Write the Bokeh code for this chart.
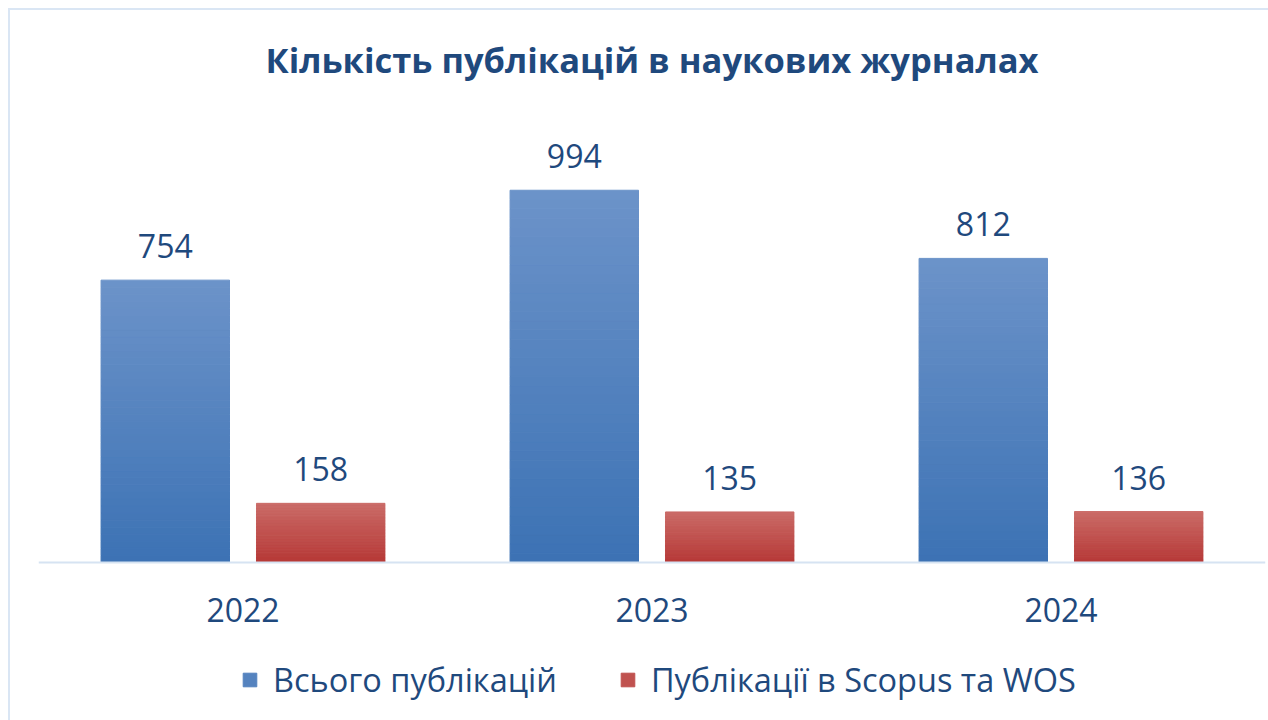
from bokeh.plotting import figure
from bokeh.models import ColumnDataSource, Legend, LegendItem, FactorRange, Range1d, Span
from bokeh.transform import dodge
from bokeh.core.properties import value
from bokeh.embed import file_html
from bokeh.resources import INLINE

# ---- data ----
years = ["2022", "2023", "2024"]
total = [754, 994, 812]
scopus = [158, 135, 136]
series_names = ["Всього публікацій", "Публікації в Scopus та WOS"]
title_text = "Кількість публікацій в наукових журналах"

# ---- style ----
TEXT = "#1f497d"
FONT = "Open Sans"
BLUE_TOP, BLUE_BOT = (108, 147, 201), (60, 114, 180)
RED_TOP, RED_BOT = (202, 107, 103), (182, 56, 54)
N = 40
OFF = 0.19
BW = 0.314


def hexc(rgb):
    return "#%02x%02x%02x" % rgb


def grad_source(vals, top_rgb, bot_rgb):
    xs, b, t, c = [], [], [], []
    for yr, v in zip(years, vals):
        for k in range(N):
            f = (k + 0.5) / N
            rgb = tuple(round(bot_rgb[i] + (top_rgb[i] - bot_rgb[i]) * f) for i in range(3))
            xs.append(yr)
            b.append(v * k / N)
            t.append(v * (k + 1) / N)
            c.append(hexc(rgb))
    return ColumnDataSource(dict(x=xs, bottom=b, top=t, color=c))


# layout (pixels)
FW = 1227
TOP, BASE, BOTTOM = 108, 562, 720
px_per_unit = 0.3745
FH = BOTTOM - TOP

p = figure(
    x_range=FactorRange(*years, range_padding=0),
    y_range=Range1d(-(BOTTOM - BASE) / px_per_unit, (BASE - TOP) / px_per_unit),
    frame_width=FW, frame_height=FH,
    output_backend="svg", toolbar_location=None,
    min_border_left=38, min_border_right=3,
    min_border_top=TOP, min_border_bottom=0,
    title=title_text,
)
p.border_fill_alpha = 0
p.styles = {
    "background": "linear-gradient(#dae6f4,#dae6f4) 8px 8px / 2px 100% no-repeat, "
                  "linear-gradient(#dae6f4,#dae6f4) 8px 8px / 100% 2px no-repeat",
}
p.outline_line_color = None
p.xgrid.grid_line_color = None
p.ygrid.grid_line_color = None
p.yaxis.visible = False
p.xaxis.visible = False

p.title.align = "center"
p.title.text_font = FONT
p.title.text_font_style = "bold"
p.title.text_font_size = "34.5px"
p.title.text_color = TEXT
p.title.standoff = 52

# category baseline and labels
p.add_layout(Span(location=0, dimension="width", line_color="#d6e3f2", line_width=2))
cat_src = ColumnDataSource(dict(x=years, y=[0] * len(years)))
p.text(x="x", y="y", text="x", source=cat_src,
       text_font=value(FONT), text_font_size="32px", text_color=TEXT,
       text_align="center", text_baseline="alphabetic", y_offset=47)

src_total = grad_source(total, BLUE_TOP, BLUE_BOT)
src_scopus = grad_source(scopus, RED_TOP, RED_BOT)

r1 = p.vbar(x=dodge("x", -OFF, range=p.x_range), bottom="bottom", top="top", width=BW,
            source=src_total, fill_color="color", line_color="color", line_width=1)
r2 = p.vbar(x=dodge("x", OFF, range=p.x_range), bottom="bottom", top="top", width=BW,
            source=src_scopus, fill_color="color", line_color="color", line_width=1)

lab_total = ColumnDataSource(dict(x=years, y=total, t=[str(v) for v in total]))
lab_scopus = ColumnDataSource(dict(x=years, y=scopus, t=[str(v) for v in scopus]))
for src, off in ((lab_total, -OFF), (lab_scopus, OFF)):
    p.text(x=dodge("x", off, range=p.x_range), y="y", text="t", source=src,
           text_font=value(FONT), text_font_size="32px", text_color=TEXT,
           text_align="center", text_baseline="alphabetic", y_offset=-34)

legend = Legend(
    items=[LegendItem(label=series_names[0], renderers=[r1], index=N // 2),
           LegendItem(label=series_names[1], renderers=[r2], index=N // 2)],
    orientation="horizontal", location=(203, 18),
    glyph_width=17, glyph_height=17, label_standoff=15, spacing=62,
    label_text_font=FONT, label_text_font_size="32.5px", label_text_color=TEXT,
    border_line_color=None, background_fill_alpha=0, padding=0, margin=0,
)
p.add_layout(legend, "center")

open("out.html", "w").write(file_html(p, INLINE))
